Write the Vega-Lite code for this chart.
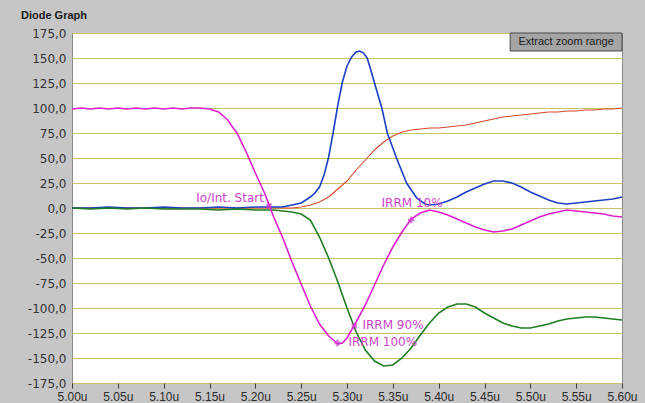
{
  "$schema": "https://vega.github.io/schema/vega-lite/v6.json",
  "width": 550,
  "height": 350,
  "autosize": {"type": "none"},
  "padding": {"left": 72, "top": 33, "right": 23, "bottom": 20},
  "background": "#c6c6c6",
  "view": {"fill": "#ffffff", "stroke": "#8a8a8a", "strokeWidth": 1},
  "title": {"text": "Diode Graph", "anchor": "start", "frame": "group", "font": "Liberation Sans", "fontSize": 11, "fontWeight": "bold", "color": "#1a1a1a", "dx": -51, "offset": 6},
  "datasets": {
    "M": [
      {"t":5.00,"v":99},{"t":5.01,"v":100},{"t":5.02,"v":99},{"t":5.03,"v":100},{"t":5.04,"v":99},{"t":5.05,"v":100},{"t":5.06,"v":99},{"t":5.07,"v":100},{"t":5.08,"v":99},{"t":5.09,"v":100},{"t":5.10,"v":99},{"t":5.11,"v":100},{"t":5.12,"v":99},{"t":5.13,"v":100},{"t":5.14,"v":100},{"t":5.15,"v":99},{"t":5.16,"v":96},{"t":5.17,"v":88},{"t":5.175,"v":81},{"t":5.18,"v":75},{"t":5.19,"v":56},{"t":5.20,"v":35},{"t":5.21,"v":15},{"t":5.215,"v":3},{"t":5.22,"v":-9},{"t":5.23,"v":-30},{"t":5.24,"v":-54},{"t":5.25,"v":-76},{"t":5.26,"v":-98},{"t":5.27,"v":-116},{"t":5.28,"v":-128},{"t":5.29,"v":-136},{"t":5.295,"v":-135},{"t":5.30,"v":-130},{"t":5.31,"v":-114},{"t":5.32,"v":-97},{"t":5.33,"v":-77},{"t":5.34,"v":-57},{"t":5.35,"v":-39},{"t":5.36,"v":-24},{"t":5.37,"v":-11},{"t":5.38,"v":-5},{"t":5.39,"v":-2},{"t":5.40,"v":-4},{"t":5.41,"v":-7},{"t":5.42,"v":-11},{"t":5.43,"v":-15},{"t":5.44,"v":-19},{"t":5.45,"v":-22},{"t":5.46,"v":-24},{"t":5.47,"v":-23},{"t":5.48,"v":-21},{"t":5.49,"v":-17},{"t":5.50,"v":-13},{"t":5.51,"v":-9},{"t":5.52,"v":-6},{"t":5.53,"v":-4},{"t":5.54,"v":-2},{"t":5.55,"v":-3},{"t":5.56,"v":-4},{"t":5.57,"v":-5},{"t":5.58,"v":-6},{"t":5.59,"v":-8},{"t":5.60,"v":-9}
    ],
    "G": [
      {"t":5.00,"v":0},{"t":5.02,"v":-1},{"t":5.04,"v":0},{"t":5.06,"v":-1},{"t":5.08,"v":0},{"t":5.10,"v":-1},{"t":5.12,"v":-1},{"t":5.14,"v":-1},{"t":5.16,"v":-2},{"t":5.18,"v":-1},{"t":5.20,"v":-2},{"t":5.22,"v":-2},{"t":5.23,"v":-3},{"t":5.24,"v":-4},{"t":5.25,"v":-6},{"t":5.26,"v":-12},{"t":5.27,"v":-29},{"t":5.28,"v":-50},{"t":5.29,"v":-74},{"t":5.30,"v":-100},{"t":5.31,"v":-124},{"t":5.32,"v":-142},{"t":5.33,"v":-153},{"t":5.34,"v":-158},{"t":5.35,"v":-157},{"t":5.36,"v":-150},{"t":5.37,"v":-140},{"t":5.38,"v":-127},{"t":5.39,"v":-115},{"t":5.40,"v":-105},{"t":5.41,"v":-99},{"t":5.42,"v":-96},{"t":5.43,"v":-96},{"t":5.44,"v":-99},{"t":5.45,"v":-105},{"t":5.46,"v":-110},{"t":5.47,"v":-115},{"t":5.48,"v":-118},{"t":5.49,"v":-120},{"t":5.50,"v":-120},{"t":5.51,"v":-118},{"t":5.52,"v":-116},{"t":5.53,"v":-113},{"t":5.54,"v":-111},{"t":5.55,"v":-110},{"t":5.56,"v":-109},{"t":5.57,"v":-109},{"t":5.58,"v":-110},{"t":5.59,"v":-111},{"t":5.60,"v":-112}
    ],
    "B": [
      {"t":5.00,"v":0},{"t":5.02,"v":0},{"t":5.04,"v":1},{"t":5.06,"v":0},{"t":5.08,"v":0},{"t":5.10,"v":1},{"t":5.12,"v":0},{"t":5.14,"v":0},{"t":5.16,"v":1},{"t":5.18,"v":0},{"t":5.20,"v":1},{"t":5.22,"v":1},{"t":5.23,"v":1},{"t":5.24,"v":3},{"t":5.25,"v":5},{"t":5.26,"v":11},{"t":5.265,"v":15},{"t":5.27,"v":21},{"t":5.275,"v":33},{"t":5.28,"v":51},{"t":5.285,"v":76},{"t":5.29,"v":103},{"t":5.295,"v":126},{"t":5.30,"v":142},{"t":5.305,"v":151},{"t":5.31,"v":156},{"t":5.314,"v":157},{"t":5.318,"v":155},{"t":5.322,"v":150},{"t":5.326,"v":138},{"t":5.33,"v":125},{"t":5.338,"v":100},{"t":5.344,"v":75},{"t":5.354,"v":50},{"t":5.365,"v":25},{"t":5.376,"v":10},{"t":5.385,"v":4},{"t":5.39,"v":3},{"t":5.40,"v":4},{"t":5.41,"v":7},{"t":5.42,"v":11},{"t":5.43,"v":16},{"t":5.44,"v":20},{"t":5.45,"v":24},{"t":5.46,"v":27},{"t":5.47,"v":27},{"t":5.48,"v":25},{"t":5.49,"v":21},{"t":5.50,"v":16},{"t":5.51,"v":12},{"t":5.52,"v":8},{"t":5.53,"v":5},{"t":5.54,"v":4},{"t":5.55,"v":5},{"t":5.56,"v":6},{"t":5.57,"v":7},{"t":5.58,"v":8},{"t":5.59,"v":9},{"t":5.60,"v":11}
    ],
    "O": [
      {"t":5.00,"v":0},{"t":5.10,"v":0},{"t":5.20,"v":0},{"t":5.24,"v":0},{"t":5.25,"v":1},{"t":5.26,"v":3},{"t":5.27,"v":6},{"t":5.28,"v":11},{"t":5.29,"v":19},{"t":5.30,"v":27},{"t":5.31,"v":38},{"t":5.32,"v":48},{"t":5.33,"v":58},{"t":5.34,"v":66},{"t":5.35,"v":72},{"t":5.36,"v":76},{"t":5.37,"v":78},{"t":5.38,"v":79},{"t":5.39,"v":80},{"t":5.40,"v":80},{"t":5.41,"v":81},{"t":5.42,"v":82},{"t":5.43,"v":83},{"t":5.44,"v":85},{"t":5.45,"v":87},{"t":5.46,"v":89},{"t":5.47,"v":91},{"t":5.48,"v":92},{"t":5.49,"v":93},{"t":5.50,"v":94},{"t":5.51,"v":95},{"t":5.52,"v":96},{"t":5.53,"v":96},{"t":5.54,"v":97},{"t":5.55,"v":97},{"t":5.56,"v":98},{"t":5.57,"v":98},{"t":5.58,"v":99},{"t":5.59,"v":99},{"t":5.60,"v":100}
    ],
    "ann": [
      {"t":5.1355,"v":10,"label":"Io/Int. Start"},
      {"t":5.3377,"v":5,"label":"IRRM 10%"},
      {"t":5.3169,"v":-117,"label":"IRRM 90%"},
      {"t":5.3016,"v":-134,"label":"IRRM 100%"}
    ],
    "plus": [
      {"t":5.2896,"v":-135},
      {"t":5.37,"v":-12}
    ],
    "times": [
      {"t":5.308,"v":-118},
      {"t":5.215,"v":2}
    ],
    "btn": [
      {"t":5.478,"t2":5.6,"tc":5.539,"v":157,"v2":175,"vc":166,"label":"Extract zoom range"}
    ]
  },
  "encoding": {
    "x": {
      "field": "t", "type": "quantitative",
      "scale": {"domain": [5.0, 5.6], "nice": false, "zero": false},
      "axis": {
        "title": null,
        "values": [5.0, 5.05, 5.1, 5.15, 5.2, 5.25, 5.3, 5.35, 5.4, 5.45, 5.5, 5.55, 5.6],
        "labelExpr": "format(datum.value, '.2f') + 'u'",
        "grid": false, "domain": false, "ticks": true, "tickSize": 5, "tickColor": "#3c3c3c",
        "labelFont": "Liberation Sans", "labelFontSize": 12, "labelColor": "#2b2b2b",
        "labelPadding": 3, "labelFlush": false, "labelOverlap": false
      }
    },
    "y": {
      "field": "v", "type": "quantitative",
      "scale": {"domain": [-175, 175], "nice": false, "zero": false},
      "axis": {
        "title": null,
        "values": [-175, -150, -125, -100, -75, -50, -25, 0, 25, 50, 75, 100, 125, 150, 175],
        "labelExpr": "(datum.value < 0 ? '-' : '') + replace(format(abs(datum.value), '.1f'), '.', ',')",
        "grid": true, "gridColor": "#c6c46a", "gridWidth": 1.2,
        "domain": false, "ticks": false, "labelPadding": 6,
        "labelFont": "DejaVu Sans", "labelFontSize": 12, "labelColor": "#333333"
      }
    }
  },
  "layer": [
    {"data": {"name": "O"}, "mark": {"type": "line", "color": "#d44a2c", "strokeWidth": 1.1}},
    {"data": {"name": "B"}, "mark": {"type": "line", "color": "#1d3fc2", "strokeWidth": 1.6}},
    {"data": {"name": "G"}, "mark": {"type": "line", "color": "#1f7d22", "strokeWidth": 1.6}},
    {"data": {"name": "M"}, "mark": {"type": "line", "color": "#dc1fcc", "strokeWidth": 1.6}},
    {"data": {"name": "plus"}, "mark": {"type": "point", "shape": "cross", "size": 40, "filled": true, "color": "#cc33cc"}},
    {"data": {"name": "times"}, "mark": {"type": "point", "shape": "cross", "angle": 45, "size": 40, "filled": true, "color": "#cc33cc"}},
    {"data": {"name": "ann"}, "mark": {"type": "text", "align": "left", "baseline": "middle", "font": "DejaVu Sans", "fontSize": 12, "color": "#cc44c8"}, "encoding": {"text": {"field": "label"}}},
    {"data": {"name": "btn"}, "mark": {"type": "rect", "fill": "#a4a4a4", "stroke": "#4a4a4a", "strokeWidth": 1}, "encoding": {"x2": {"field": "t2"}, "y2": {"field": "v2"}}},
    {"data": {"name": "btn"}, "mark": {"type": "text", "align": "center", "baseline": "middle", "font": "Liberation Sans", "fontSize": 11, "color": "#1a1a1a"}, "encoding": {"x": {"field": "tc", "type": "quantitative"}, "y": {"field": "vc", "type": "quantitative"}, "text": {"field": "label"}}}
  ]
}
